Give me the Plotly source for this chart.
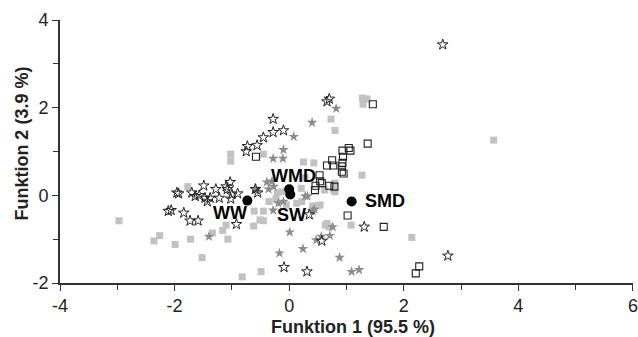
import plotly.graph_objects as go

# Grey filled squares
sq_grey_x = [-2.97, -2.36, -2.26, -1.99, -1.72, -1.52, -1.34, -1.16, -1.07, -1.10, -0.82, -0.49,
             -0.62, -0.45, -0.61, -0.45, -1.77, -0.56, -1.02, -1.02, -0.45, 0.25, 0.43, 1.28,
             1.36, 1.29, 0.73, 0.80, 3.57, 1.27, -0.23, -0.21, -0.13, 0.21, 0.22, 0.13, 0.49,
             0.41, 0.28, -0.51, 0.63, 0.70, 0.80, 0.62, 1.08, 0.66, 2.14, 0.80, 0.78, 0.54,
             -0.05, -0.35]
sq_grey_y = [-0.58, -1.04, -0.92, -1.12, -1.00, -1.42, -0.86, -0.80, -1.00, -0.68, -1.86, -1.74,
             -0.70, -0.58, -0.36, -0.36, 0.20, 0.12, 0.94, 0.78, 0.94, 0.76, 0.74, 2.22,
             2.20, 2.08, 1.74, 1.48, 1.26, 0.46, -0.08, 0.06, 0.08, 0.16, -0.14, -0.18, -0.24,
             -0.24, 0.40, -0.56, -0.68, -0.72, 0.08, 0.12, -0.68, -0.64, -0.96, 0.28, 0.12, -0.22,
             -0.22, -0.14]

# Grey filled stars
st_grey_x = [0.40, 0.08, -0.10, -0.28, -0.11, 0.82, -1.40, 0.01, -0.17, 0.24, 0.47, 0.56, 0.71,
             0.76, 0.88, 1.09, 1.22, -0.39, -0.30, -0.36, -0.27, -0.19, -0.10, -0.28, -0.58,
             0.32, 0.41, 0.28, 0.44]
st_grey_y = [1.66, 1.34, 1.04, 0.84, 0.84, 1.98, -0.94, -0.84, -1.32, -1.22, -1.02, -0.94, -0.92,
             -0.72, -1.42, -1.74, -1.70, 0.30, 0.32, 0.14, 0.20, -0.18, -0.14, -0.34, 0.14,
             -0.02, -0.36, -0.02, -0.32]

# Open squares
sq_open_x = [1.46, 1.37, 0.93, 1.04, 1.07, 0.75, 0.66, 0.93, 0.92, 0.77, 0.92, 0.95, 0.94, 0.53,
             0.46, 0.57, 0.70, 0.79, 0.45, 1.02, 1.65, 2.27, 2.21, -0.58, 0.54]
sq_open_y = [2.08, 1.18, 1.02, 1.08, 1.02, 0.80, 0.68, 0.74, 0.66, 0.68, 0.54, 0.50, 0.88, 0.46,
             0.22, 0.28, 0.22, 0.20, 0.12, -0.46, -0.72, -1.62, -1.78, 0.88, 0.32]

# Open stars
st_open_x = [-0.28, -0.28, -0.10, -0.45, -0.56, -0.73, -0.75, 0.66, 0.70, 2.68, 1.31, 2.77, 0.31,
             -0.09, 0.57, 0.35, -0.92, -1.73, -1.59, -1.84, -2.06, -2.11, -1.93, -1.96, -1.70,
             -1.64, -1.57, -1.49, -1.47, -1.43, -1.38, -1.28, -1.22, -1.10, -1.03, -1.08, -1.00,
             -0.90, -1.02, -0.59, -0.55]
st_open_y = [1.74, 1.44, 1.48, 1.32, 1.14, 1.12, 1.00, 2.14, 2.20, 3.44, -0.72, -1.38, -1.74,
             -1.64, -1.04, -0.44, -0.66, -0.58, -0.58, -0.40, -0.34, -0.36, 0.04, 0.06, 0.06,
             -0.02, 0.00, 0.22, -0.06, -0.14, -0.06, 0.14, -0.06, 0.20, 0.30, 0.14, 0.02,
             0.04, -0.08, 0.14, 0.06]

# Group centroids
grp_names = ["WW", "SW", "WMD", "SMD"]
grp_x = [-0.73, 0.02, 0.00, 1.09]
grp_y = [-0.12, 0.02, 0.14, -0.14]

x_ticks = [-4, -2, 0, 2, 4, 6]
y_ticks = [-2, 0, 2, 4]
x_title = "Funktion 1 (95.5 %)"
y_title = "Funktion 2 (3.9 %)"

FONT = "Liberation Sans, Arial, sans-serif"

fig = go.Figure()
fig.add_trace(go.Scatter(x=sq_grey_x, y=sq_grey_y, mode="markers",
                         marker=dict(symbol="square", size=7, color="#c2c2c2", line=dict(width=0))))
fig.add_trace(go.Scatter(x=st_grey_x, y=st_grey_y, mode="markers",
                         marker=dict(symbol="star", size=8, color="#8c8c8c", line=dict(width=0))))
fig.add_trace(go.Scatter(x=sq_open_x, y=sq_open_y, mode="markers",
                         marker=dict(symbol="square-open", size=7, color="#222222", line=dict(width=1.1))))
fig.add_trace(go.Scatter(x=st_open_x, y=st_open_y, mode="markers",
                         marker=dict(symbol="star-open", size=8, color="#222222", line=dict(width=1))))
fig.add_trace(go.Scatter(x=grp_x, y=grp_y, mode="markers",
                         marker=dict(symbol="circle", size=10, color="black", line=dict(width=0))))

label_offsets = {"WW": (-17, -12), "SW": (1, -21), "WMD": (4, 13), "SMD": (33, 0)}
for name, gx, gy in zip(grp_names, grp_x, grp_y):
    dx, dy = label_offsets[name]
    fig.add_annotation(x=gx, y=gy, text=name, showarrow=False, xshift=dx, yshift=dy,
                       xanchor="center", yanchor="middle",
                       font=dict(family=FONT, size=18, color="black", weight="bold"))

# Axis titles
fig.add_annotation(x=0.5, y=0, xref="paper", yref="paper", text=f"<b>{x_title}</b>", showarrow=False,
                   xanchor="center", yanchor="middle", xshift=6, yshift=-44,
                   font=dict(family=FONT, size=18, color="#222222"))
fig.add_annotation(x=0, y=0.53, xref="paper", yref="paper", text=f"<b>{y_title}</b>", showarrow=False,
                   xanchor="center", yanchor="middle", xshift=-38, textangle=-90,
                   font=dict(family=FONT, size=18, color="#222222"))

axis_common = dict(showgrid=False, zeroline=False, showline=True, linecolor="#333333", linewidth=1.6,
                   ticks="outside", ticklen=6, tickwidth=1.4, tickcolor="#333333",
                   tickfont=dict(family=FONT, size=18, color="#222222"),
                   minor=dict(ticks="outside", ticklen=5, tickwidth=1.4, tickcolor="#333333", dtick=1),
                   automargin=False, ticklabeloverflow="allow")

fig.update_layout(
    width=638, height=337,
    margin=dict(l=60, r=5, t=20, b=54),
    plot_bgcolor="white", paper_bgcolor="white",
    showlegend=False,
    xaxis=dict(range=[-4, 6.001], tickvals=x_ticks, ticktext=[str(v) for v in x_ticks], **axis_common),
    yaxis=dict(range=[-2, 4.001], tickvals=y_ticks, ticktext=[str(v) for v in y_ticks], **axis_common),
)

fig.write_html("out.html")
